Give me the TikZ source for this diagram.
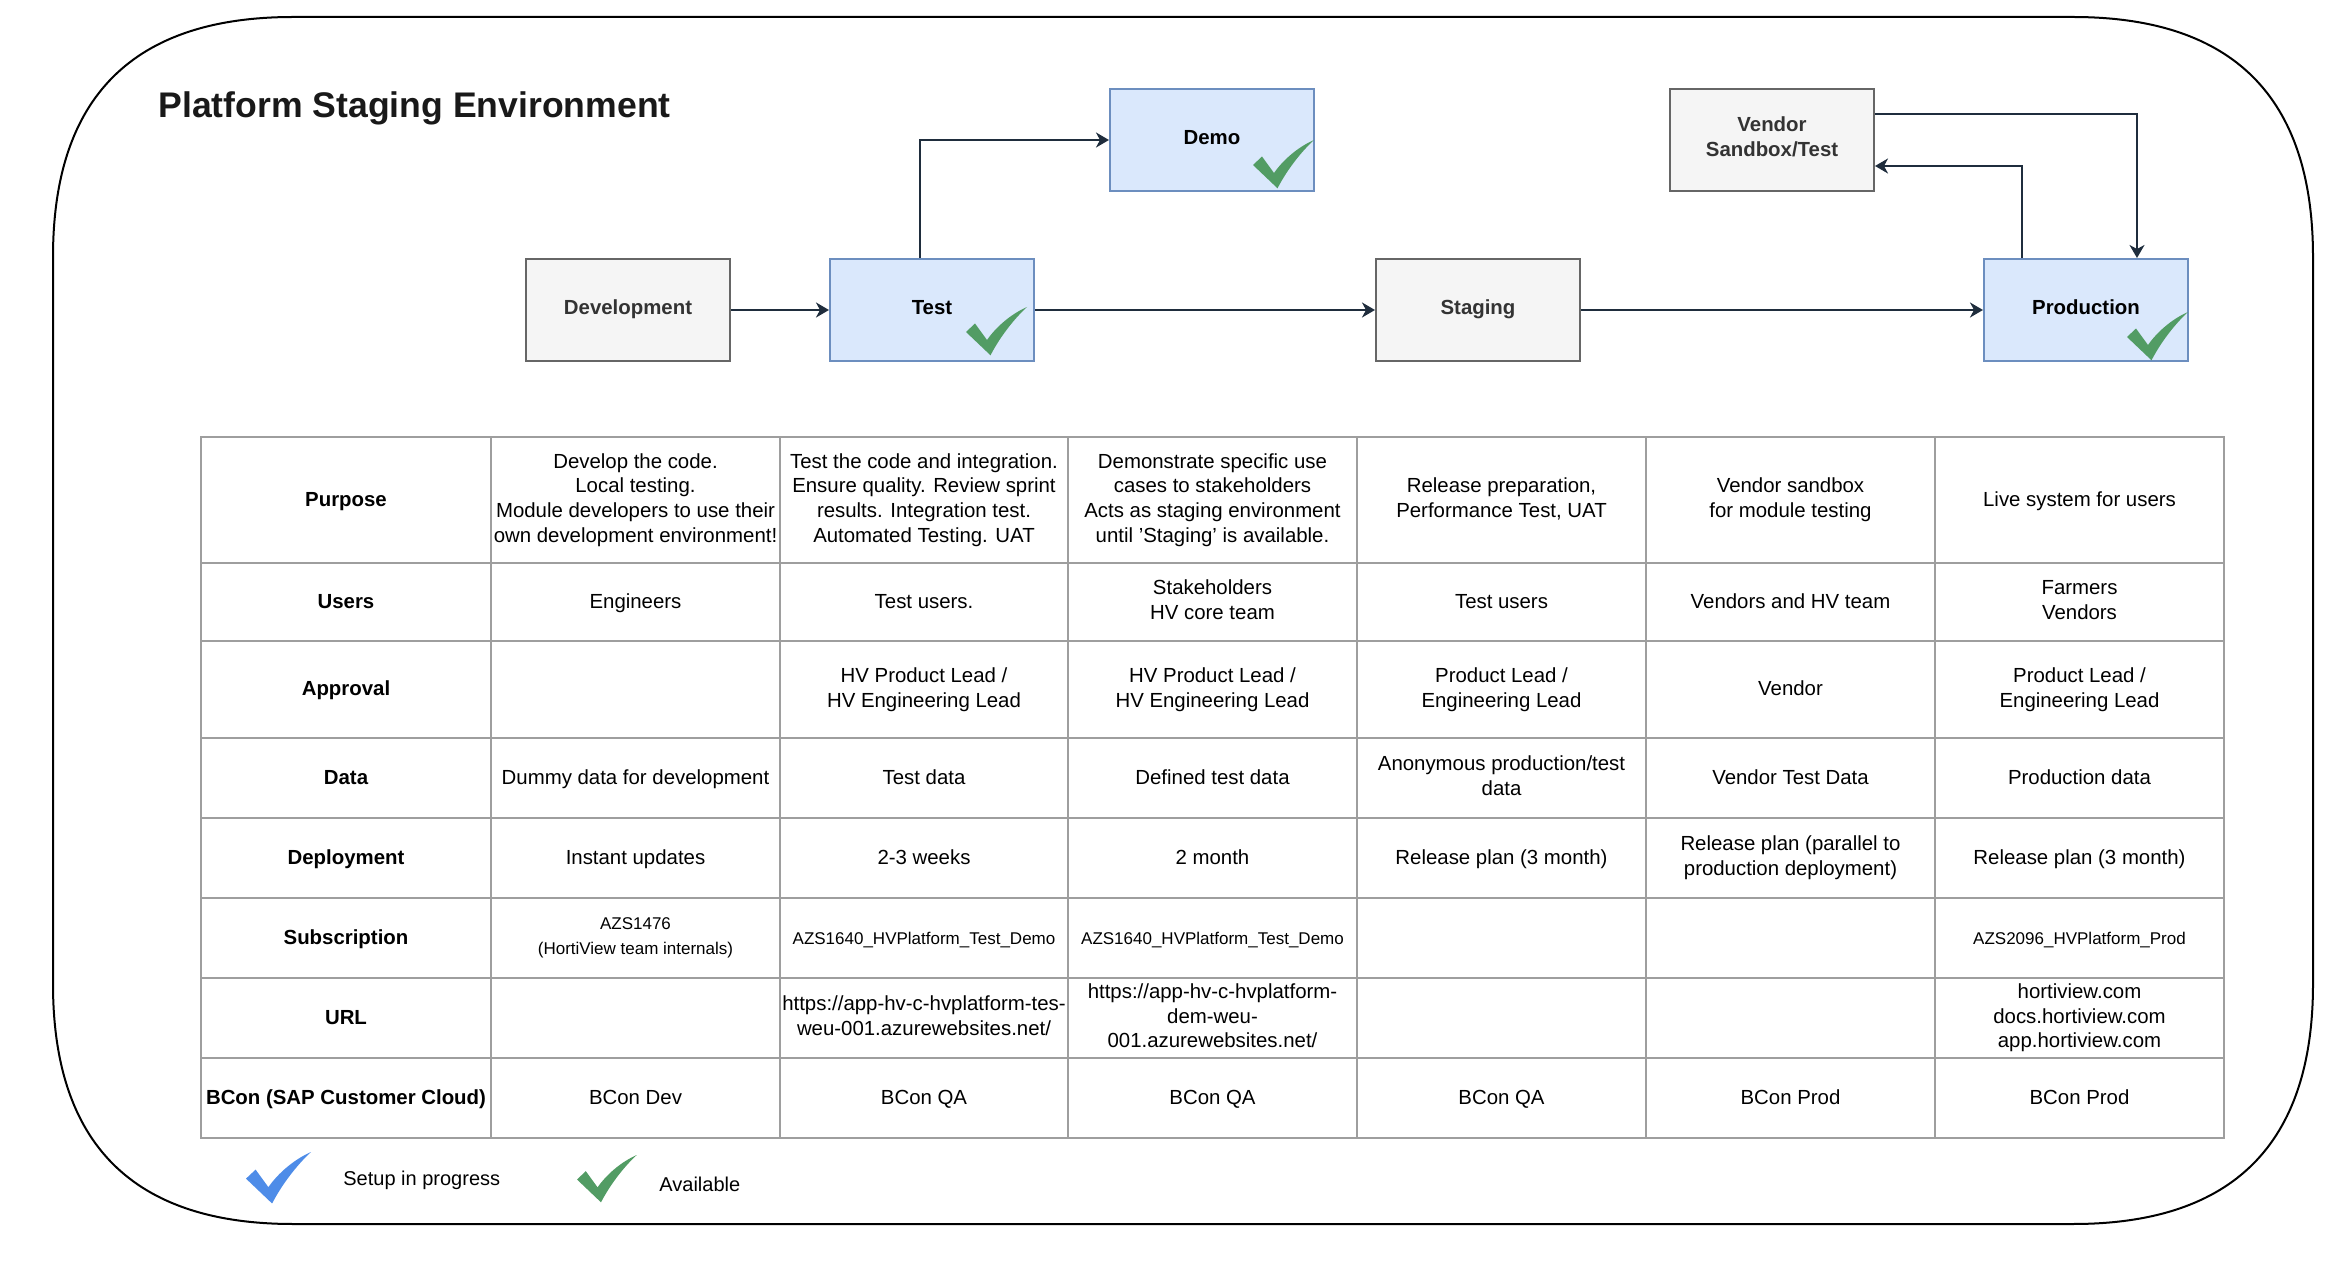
\documentclass[tikz,border=0pt]{standalone}
\usepackage{fontspec}
\setmainfont{Liberation Sans}
\usetikzlibrary{arrows.meta,calc}
\definecolor{grayfill}{HTML}{F5F5F5}
\definecolor{graystroke}{HTML}{666666}
\definecolor{graytext}{HTML}{333333}
\definecolor{bluefill}{HTML}{DAE8FC}
\definecolor{bluestroke}{HTML}{6C8EBF}
\definecolor{arrowcol}{HTML}{1F2D3D}
\definecolor{chkgreen}{HTML}{529C64}
\definecolor{chkblue}{HTML}{4E8CE8}
\definecolor{tblline}{HTML}{9E9E9E}
\newcommand\tfont{\fontsize{10.2pt}{12.3pt}\selectfont}
\newcommand\smfont{\fontsize{8.5pt}{12.5pt}\selectfont}
\begin{document}
\begin{tikzpicture}[x=0.5pt,y=-0.5pt,
  struts/.style={execute at begin node={\strut},execute at end node={\strut}},
  graybox/.style={draw=graystroke,fill=grayfill,line width=1pt,minimum width=102pt,minimum height=51pt,inner sep=0pt,align=center,text=graytext,font=\tfont\bfseries,struts},
  bluebox/.style={draw=bluestroke,fill=bluefill,line width=1pt,minimum width=102pt,minimum height=51pt,inner sep=0pt,align=center,text=black,font=\tfont\bfseries,struts},
  arr/.style={draw=arrowcol,line width=1pt,-{Stealth[length=6.5pt,width=7.5pt,inset=2pt]}},
  tbl/.style={draw=tblline,line width=1.25pt},
  cell/.style={font=\tfont,align=center,inner sep=0pt,text=black,struts,yshift=-0.75pt},
  rowlab/.style={font=\tfont\bfseries,align=center,inner sep=0pt,text=black,struts,yshift=-0.75pt},
  subcell/.style={font=\smfont,align=center,inner sep=0pt,text=black,struts,yshift=-0.75pt},
  chk/.pic={\fill[#1] (0,25) -- (9,16.5) -- (21,33) .. controls (30,20) and (45,7) .. (61,0) .. controls (50,10) and (35,28) .. (24.5,48.3) -- cycle;}
]
\useasboundingbox (0,0) rectangle (2342,1262);
% outer frame
\draw[line width=1pt,black] (53,257) .. controls (53,97) and (133,17) .. (293,17) -- (2073,17)
  .. controls (2233,17) and (2313,97) .. (2313,257) -- (2313,984)
  .. controls (2313,1144) and (2233,1224) .. (2073,1224) -- (293,1224)
  .. controls (133,1224) and (53,1144) .. (53,984) -- cycle;
% title
\node[anchor=base west,inner sep=0pt,font=\fontsize{17.8pt}{21pt}\selectfont\bfseries,text=black!90] (title) at (158,118) {Platform Staging Environment};
% boxes
\node[graybox] (dev) at (628,310) {Development};
\node[bluebox] (test) at (932,310) {Test};
\node[bluebox] (demo) at (1212,140) {Demo};
\node[graybox] (stag) at (1478,310) {Staging};
\node[graybox,font=\fontsize{10.2pt}{12.5pt}\selectfont\bfseries] (vend) at (1772,140) {Vendor\\Sandbox/Test};
\node[bluebox] (prod) at (2086,310) {Production};
% arrows
\draw[arr] (dev.east) -- (test.west);
\draw[arr] ([xshift=-6pt]test.north) |- (demo.west);
\draw[arr] (test.east) -- (stag.west);
\draw[arr] (stag.east) -- (prod.west);
\draw[arr] ([yshift=13pt]vend.east) -| ([xshift=25.5pt]prod.north);
\draw[arr] ([xshift=-32pt]prod.north) |- ([yshift=-13pt]vend.east);
% checks
\pic at (966,307) {chk=chkgreen};
\pic at (1253,140) {chk=chkgreen};
\pic at (2127,312) {chk=chkgreen};
% table grid
\draw[tbl] (201,437) rectangle (2224,1138);
\foreach \x in {491,780,1068,1357,1646,1935} \draw[tbl] (\x,437) -- (\x,1138);
\foreach \y in {563,641,738,818,898,978,1058} \draw[tbl] (201,\y) -- (2224,\y);
% row labels
\node[rowlab] (lpurp) at (346,500) {Purpose};
\node[rowlab] (lusers) at (346,602) {Users};
\node[rowlab] (lappr) at (346,689.5) {Approval};
\node[rowlab] (ldata) at (346,778) {Data};
\node[rowlab] (ldepl) at (346,858) {Deployment};
\node[rowlab] (lsub) at (346,938) {Subscription};
\node[rowlab] (lurl) at (346,1018) {URL};
\node[rowlab] (lbcon) at (346,1098) {BCon (SAP Customer Cloud)};
% purpose
\node[cell] (p1) at (635.5,500) {Develop the code.\\Local testing.\\Module developers to use their\\own development environment!};
\node[cell] (p2) at (924,500) {Test the code and integration.\\Ensure quality. Review sprint\\results. Integration test.\\Automated Testing. UAT};
\node[cell] (p3) at (1212.5,500) {Demonstrate specific use\\cases to stakeholders\\Acts as staging environment\\until 'Staging' is available.};
\node[cell] (p4) at (1501.5,500) {Release preparation,\\Performance Test, UAT};
\node[cell] (p5) at (1790.5,500) {Vendor sandbox\\for module testing};
\node[cell] (p6) at (2079.5,500) {Live system for users};
% users
\node[cell] (u1) at (635.5,602) {Engineers};
\node[cell] (u2) at (924,602) {Test users.};
\node[cell] (u3) at (1212.5,602) {Stakeholders\\HV core team};
\node[cell] (u4) at (1501.5,602) {Test users};
\node[cell] (u5) at (1790.5,602) {Vendors and HV team};
\node[cell] (u6) at (2079.5,602) {Farmers\\Vendors};
% approval
\node[cell] (a2) at (924,689.5) {HV Product Lead /\\HV Engineering Lead};
\node[cell] (a3) at (1212.5,689.5) {HV Product Lead /\\HV Engineering Lead};
\node[cell] (a4) at (1501.5,689.5) {Product Lead /\\Engineering Lead};
\node[cell] (a5) at (1790.5,689.5) {Vendor};
\node[cell] (a6) at (2079.5,689.5) {Product Lead /\\Engineering Lead};
% data
\node[cell] (d1) at (635.5,778) {Dummy data for development};
\node[cell] (d2) at (924,778) {Test data};
\node[cell] (d3) at (1212.5,778) {Defined test data};
\node[cell] (d4) at (1501.5,778) {Anonymous production/test\\data};
\node[cell] (d5) at (1790.5,778) {Vendor Test Data};
\node[cell] (d6) at (2079.5,778) {Production data};
% deployment
\node[cell] (e1) at (635.5,858) {Instant updates};
\node[cell] (e2) at (924,858) {2-3 weeks};
\node[cell] (e3) at (1212.5,858) {2 month};
\node[cell] (e4) at (1501.5,858) {Release plan (3 month)};
\node[cell] (e5) at (1790.5,858) {Release plan (parallel to\\production deployment)};
\node[cell] (e6) at (2079.5,858) {Release plan (3 month)};
% subscription
\node[subcell] (s1) at (635.5,938) {AZS1476\\(HortiView team internals)};
\node[subcell] (s2) at (924,938) {AZS1640\_HVPlatform\_Test\_Demo};
\node[subcell] (s3) at (1212.5,938) {AZS1640\_HVPlatform\_Test\_Demo};
\node[subcell] (s6) at (2079.5,938) {AZS2096\_HVPlatform\_Prod};
% url
\node[cell] (r2) at (924,1018) {https://app-hv-c-hvplatform-tes-\\weu-001.azurewebsites.net/};
\node[cell] (r3) at (1212.5,1018) {https://app-hv-c-hvplatform-\\dem-weu-\\001.azurewebsites.net/};
\node[cell] (r6) at (2079.5,1018) {hortiview.com\\docs.hortiview.com\\app.hortiview.com};
% bcon
\node[cell] (b1) at (635.5,1098) {BCon Dev};
\node[cell] (b2) at (924,1098) {BCon QA};
\node[cell] (b3) at (1212.5,1098) {BCon QA};
\node[cell] (b4) at (1501.5,1098) {BCon QA};
\node[cell] (b5) at (1790.5,1098) {BCon Prod};
\node[cell] (b6) at (2079.5,1098) {BCon Prod};
% legend
\pic[scale=1.066] at (246,1152) {chk=chkblue};
\node[anchor=base west,inner sep=0pt,font=\fontsize{10pt}{12pt}\selectfont] (lg1) at (343,1185) {Setup in progress};
\pic[scale=0.98] at (577,1155) {chk=chkgreen};
\node[anchor=base west,inner sep=0pt,font=\fontsize{10pt}{12pt}\selectfont] (lg2) at (659,1191) {Available};
\end{tikzpicture}
\end{document}
